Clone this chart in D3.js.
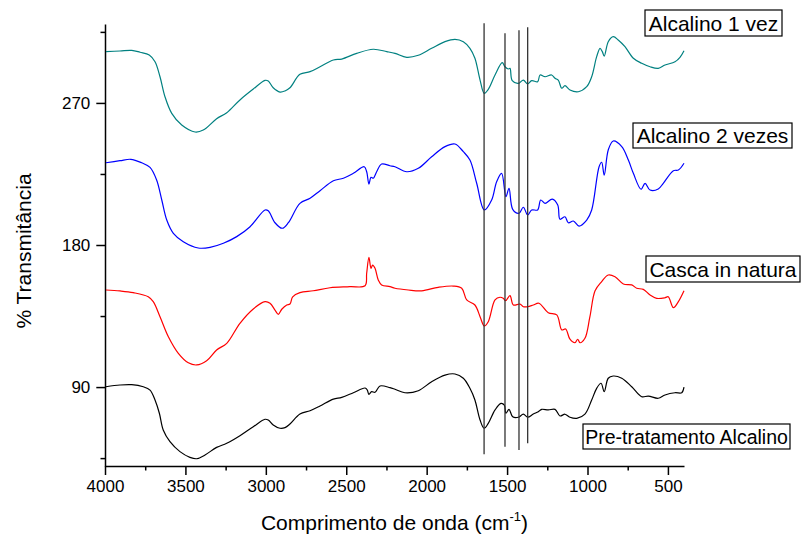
<!DOCTYPE html>
<html>
<head>
<meta charset="utf-8">
<script src="https://cdn.jsdelivr.net/npm/d3@7"></script>
<style>
  body { margin: 0; background: #fff; }
  svg { display: block; font-family: "Liberation Sans", Arial, sans-serif; }
</style>
</head>
<body>
<svg id="chart" width="802" height="535"></svg>
<script>
// FTIR spectra, [wavenumber cm-1, % transmittance (offset)]
const alcalino1Vez = [
  [3994,302.5],[3907,302.9],[3834,303.3],[3782,302.1],[3725,300.4],[3689,296.1],[3658,286.6],
  [3627,273.9],[3585,263.4],[3523,256.0],[3440,251.6],[3389,252.8],[3306,260.0],[3243,263.8],
  [3161,271.9],[3078,278.8],[3005,284.3],[2985,283.9],[2954,279.6],[2912,276.9],[2881,277.6],
  [2850,279.6],[2788,288.1],[2725,289.8],[2663,292.9],[2580,297.2],[2528,297.8],[2435,301.4],
  [2332,304.0],[2248,302.5],[2197,301.4],[2124,298.9],[2052,300.2],[1969,304.6],[1886,308.8],
  [1824,310.3],[1772,308.8],[1731,304.6],[1700,298.3],[1668,284.5],[1642,276.1],[1617,278.6],
  [1575,287.7],[1530,295.5],[1513,292.9],[1492,291.5],[1482,291.9],[1468,284.1],[1430,282.4],
  [1399,284.5],[1372,282.0],[1347,284.1],[1310,283.4],[1295,287.7],[1264,286.6],[1223,287.7],
  [1202,285.6],[1182,284.5],[1160,279.3],[1140,280.9],[1109,278.2],[1057,277.1],[1005,280.3],
  [974,286.6],[943,299.3],[922,304.6],[908,302.5],[896,299.7],[871,308.8],[840,312.0],
  [809,309.9],[767,305.6],[715,298.3],[663,295.1],[611,292.9],[560,291.9],[518,294.0],
  [456,296.1],[425,298.9],[400,303.1]
];

const alcalino2Vezes = [
  [3994,232.1],[3907,233.4],[3840,234.3],[3772,232.1],[3720,229.2],[3679,221.2],[3647,208.5],
  [3616,195.8],[3575,187.4],[3513,182.1],[3420,178.1],[3347,178.5],[3264,181.1],[3181,185.3],
  [3098,191.6],[3005,202.2],[2985,201.7],[2943,194.1],[2898,190.6],[2860,194.1],[2788,206.4],
  [2725,209.6],[2663,214.4],[2580,220.7],[2518,222.3],[2456,225.4],[2388,229.6],[2373,226.4],
  [2359,218.6],[2346,222.9],[2332,222.3],[2311,226.4],[2280,231.3],[2228,230.2],[2197,229.6],
  [2124,226.4],[2052,228.6],[1969,235.9],[1886,242.3],[1824,244.0],[1772,239.1],[1731,233.8],
  [1689,219.1],[1642,202.2],[1596,208.5],[1565,220.1],[1534,225.4],[1507,210.6],[1488,215.9],
  [1465,202.6],[1426,200.1],[1399,203.9],[1372,199.0],[1347,202.2],[1310,202.2],[1291,208.5],
  [1264,206.4],[1219,209.1],[1185,205.3],[1171,196.3],[1140,197.9],[1119,194.1],[1088,195.2],
  [1053,192.0],[1005,195.8],[974,202.2],[928,229.6],[912,232.4],[896,224.3],[871,240.2],
  [840,245.9],[787,242.3],[746,233.8],[715,225.4],[667,215.3],[642,219.1],[611,214.8],
  [560,215.5],[529,219.1],[466,227.1],[435,227.5],[400,231.8]
];

const cascaInNatura = [
  [3994,151.5],[3907,150.9],[3824,149.8],[3731,147.2],[3700,144.1],[3658,134.6],[3606,121.9],
  [3544,111.4],[3482,105.4],[3430,104.0],[3368,106.7],[3306,113.5],[3243,117.7],[3161,130.4],
  [3078,139.5],[3005,144.1],[2974,143.1],[2943,138.8],[2922,136.1],[2901,139.3],[2870,142.0],
  [2850,142.6],[2833,147.2],[2788,149.8],[2705,151.0],[2601,152.9],[2477,153.6],[2383,154.2],
  [2373,162.1],[2359,172.2],[2346,165.2],[2336,167.3],[2321,165.2],[2301,157.8],[2280,154.7],
  [2228,153.6],[2197,152.6],[2114,151.5],[2031,151.0],[1928,153.2],[1834,154.0],[1782,152.6],
  [1751,145.2],[1700,142.0],[1668,134.6],[1642,128.7],[1617,131.4],[1575,145.2],[1544,146.9],
  [1524,146.2],[1509,144.7],[1482,147.9],[1461,142.0],[1420,142.6],[1399,140.9],[1372,140.9],
  [1337,142.0],[1302,143.1],[1244,137.1],[1191,135.7],[1160,126.2],[1136,126.8],[1109,120.3],
  [1078,118.1],[1061,120.3],[1047,118.1],[1016,120.9],[985,134.6],[953,151.0],[912,156.8],
  [871,161.0],[829,159.9],[777,155.3],[725,154.7],[694,152.6],[653,151.9],[611,148.3],
  [570,146.2],[518,146.6],[498,147.2],[466,140.3],[435,144.1],[400,151.0]
];

const preTratamento = [
  [3994,90.2],[3907,91.3],[3834,91.5],[3762,90.2],[3720,88.1],[3689,81.8],[3662,73.4],
  [3638,62.8],[3596,55.4],[3534,49.1],[3472,45.5],[3430,44.6],[3378,47.0],[3306,51.8],
  [3243,54.4],[3161,59.2],[3078,64.9],[3005,69.6],[2985,69.1],[2954,66.0],[2912,63.9],
  [2881,64.3],[2850,66.6],[2788,72.9],[2725,75.0],[2663,78.0],[2580,82.4],[2528,83.5],
  [2456,86.4],[2383,89.4],[2369,88.1],[2359,85.4],[2342,87.1],[2321,86.7],[2290,90.7],
  [2228,89.6],[2197,88.6],[2135,86.4],[2052,87.7],[1969,93.4],[1886,97.6],[1824,98.3],
  [1772,95.6],[1731,89.2],[1700,81.8],[1668,69.1],[1643,63.9],[1617,67.0],[1575,75.5],
  [1538,79.7],[1517,78.6],[1507,73.4],[1488,75.9],[1465,71.2],[1430,70.9],[1399,72.8],
  [1372,70.9],[1337,72.9],[1306,74.4],[1285,75.9],[1244,75.5],[1202,75.9],[1171,71.7],
  [1140,72.8],[1109,70.9],[1067,70.2],[1016,72.9],[974,81.8],[943,89.2],[916,92.4],
  [896,87.1],[871,95.6],[840,97.0],[787,95.6],[725,90.2],[663,83.9],[622,84.3],
  [560,82.9],[518,85.0],[456,86.4],[414,86.4],[400,89.9]
];

const seriesNames = ["Alcalino 1 vez", "Alcalino 2 vezes", "Casca in natura", "Pre-tratamento Alcalino"];
const seriesColors = ["#008080", "#0000ff", "#ff0000", "#000000"];

// reference bands marked by vertical lines: position, lower and upper end
const bandPositions = [1643, 1513, 1426, 1372];
const bandBottoms = [47.4, 52.2, 50.1, 54.4];
const bandTops = [320.4, 314.1, 316.0, 317.9];

const xTicks = [4000, 3500, 3000, 2500, 2000, 1500, 1000, 500];
const xMinorTicks = [3750, 3250, 2750, 2250, 1750, 1250, 750];
const yTicks = [90, 180, 270];
const yMinorTicks = [45, 135, 225, 315];

const svg = d3.select('#chart');
const margin = { top: 24, right: 118, bottom: 69, left: 105 };
const width = 802, height = 535;

const x = d3.scaleLinear()
  .domain([4000, 400])
  .range([margin.left, width - margin.right]);

const y = d3.scaleLinear()
  .domain([40, 320])
  .range([height - margin.bottom, margin.top]);

// axes
svg.append('g')
  .attr('transform', `translate(0,${y(40)})`)
  .call(d3.axisBottom(x).tickValues(xTicks).tickFormat(d3.format('d'))
    .tickSize(9).tickSizeOuter(0).tickPadding(5));

svg.append('g')
  .attr('transform', `translate(0,${y(40)})`)
  .call(d3.axisBottom(x).tickValues(xMinorTicks).tickSize(4.5).tickFormat(''))
  .call(g => g.select('.domain').remove());

svg.append('g')
  .attr('transform', `translate(${x(4000)},0)`)
  .call(d3.axisLeft(y).tickValues(yTicks).tickFormat(d3.format('d'))
    .tickSize(8.7).tickSizeOuter(0).tickPadding(6));

svg.append('g')
  .attr('transform', `translate(${x(4000)},0)`)
  .call(d3.axisLeft(y).tickValues(yMinorTicks).tickSize(4.5).tickFormat(''))
  .call(g => g.select('.domain').remove());

svg.selectAll('.domain, .tick line')
  .attr('stroke', '#000')
  .attr('stroke-width', 1.5);

svg.selectAll('.tick text')
  .attr('font-family', '"Liberation Sans", Arial, sans-serif')
  .attr('font-size', 17)
  .attr('fill', '#000');

// axis titles
const xTitle = svg.append('text')
  .attr('x', (x.range()[0] + x.range()[1]) / 2)
  .attr('y', 530)
  .attr('text-anchor', 'middle')
  .attr('font-size', 21);
xTitle.append('tspan').text('Comprimento de onda (cm');
xTitle.append('tspan').attr('font-size', 13).attr('dy', -9).text('-1');
xTitle.append('tspan').attr('dy', 9).text(')');

svg.append('text')
  .attr('transform', 'translate(31,251) rotate(-90)')
  .attr('text-anchor', 'middle')
  .attr('font-size', 21)
  .text('% Transmitância');

// spectra
const line = d3.line()
  .x(d => x(d[0]))
  .y(d => y(d[1]))
  .curve(d3.curveCatmullRom.alpha(0.5));

const spectra = [alcalino1Vez, alcalino2Vezes, cascaInNatura, preTratamento];

svg.append('g')
  .selectAll('path')
  .data(spectra)
  .join('path')
    .attr('fill', 'none')
    .attr('stroke', (d, i) => seriesColors[i])
    .attr('stroke-width', 1.2)
    .attr('stroke-linejoin', 'round')
    .attr('d', line);

// band marker lines
svg.append('g')
  .selectAll('line')
  .data(bandPositions)
  .join('line')
    .attr('x1', d => x(d))
    .attr('x2', d => x(d))
    .attr('y1', (d, i) => y(bandTops[i]))
    .attr('y2', (d, i) => y(bandBottoms[i]))
    .attr('stroke', '#333')
    .attr('stroke-width', 1.3);

// series labels in boxes
const labelBoxes = [
  { left: 645, top: 10, w: 137, h: 26, size: 21 },
  { left: 633, top: 123, w: 159, h: 25, size: 21 },
  { left: 646, top: 256, w: 154, h: 26, size: 21 },
  { left: 583, top: 424, w: 207, h: 25, size: 19.5 }
];

const labels = svg.append('g')
  .selectAll('g')
  .data(seriesNames)
  .join('g')
    .attr('transform', (d, i) => `translate(${labelBoxes[i].left},${labelBoxes[i].top})`);

labels.append('rect')
  .attr('width', (d, i) => labelBoxes[i].w)
  .attr('height', (d, i) => labelBoxes[i].h)
  .attr('fill', '#fff')
  .attr('stroke', '#000')
  .attr('stroke-width', 1.2);

labels.append('text')
  .attr('x', (d, i) => labelBoxes[i].w / 2)
  .attr('y', (d, i) => labelBoxes[i].h / 2 + labelBoxes[i].size * 0.36)
  .attr('text-anchor', 'middle')
  .attr('font-size', (d, i) => labelBoxes[i].size)
  .text(d => d);
</script>
</body>
</html>
